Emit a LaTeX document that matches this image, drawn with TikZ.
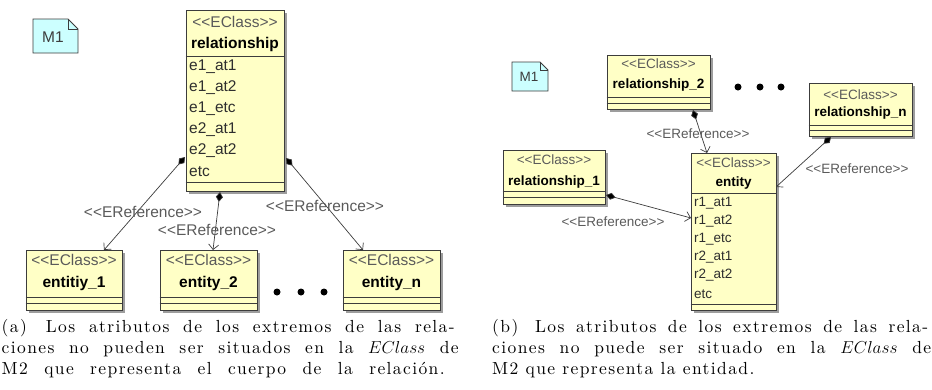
\documentclass[tikz,border=0pt]{standalone}
\usepackage{fontspec}
\newfontfamily\umlfont{Liberation Sans}
\newfontfamily\capfont[LetterSpace=8]{lmroman10-regular.otf}
\usetikzlibrary{arrows.meta,fit,shadows}
\definecolor{classfill}{HTML}{FFFFC6}
\definecolor{notefill}{HTML}{CCFFFF}
\definecolor{umlline}{HTML}{3C3C3C}
\definecolor{stereogray}{HTML}{5A5A5A}
\definecolor{attrgray}{HTML}{2E2E2E}
% guillemet-free stereotype brackets (keeps << and >> literal)
\newcommand\lla{<\kern0pt<}
\newcommand\rra{>\kern0pt>}
\newcommand\stereo[1]{\lla#1\rra}
% justified caption line of a given width
\newcommand\capline[2]{\makebox[#1pt][s]{#2}}
\tikzset{
  classbox/.style={draw=umlline, fill=classfill, line width=0.8pt, inner sep=0pt,
    drop shadow={shadow xshift=3pt, shadow yshift=-3pt, fill=black!45, opacity=0.85}},
  sepline/.style={draw=umlline, line width=0.8pt},
  notebox/.style={draw=umlline, fill=notefill, line width=0.8pt},
  lst/.style={font=\umlfont\fontsize{15.5}{18}\selectfont, text=stereogray, inner sep=0pt},
  lname/.style={font=\umlfont\bfseries\fontsize{15.5}{18}\selectfont, text=black, inner sep=0pt},
  lattr/.style={font=\umlfont\fontsize{15.5}{18}\selectfont, text=attrgray, inner sep=0pt, anchor=west},
  rst/.style={font=\umlfont\fontsize{13.5}{16}\selectfont, text=stereogray, inner sep=0pt},
  rname/.style={font=\umlfont\bfseries\fontsize{13.5}{16}\selectfont, text=black, inner sep=0pt},
  rattr/.style={font=\umlfont\fontsize{13.5}{16}\selectfont, text=attrgray, inner sep=0pt, anchor=west},
  eref/.style={draw=umlline, line width=0.7pt,
    {Diamond[length=10pt,width=7pt,fill=black]}-{Straight Barb[length=5pt,width=10pt]}},
  dotmark/.style={circle, fill=black, inner sep=0pt, minimum size=7pt},
  captext/.style={font=\capfont\fontsize{17.5}{21.5}\selectfont,
    inner sep=0pt, anchor=base west},
}
% class rectangle spanning two corners
\newcommand\umlbox[5]{\node[classbox, fit={(#2,#3) (#4,#5)}] (#1) {};}
\begin{document}
\begin{tikzpicture}[x=1pt, y=-1pt]
\useasboundingbox (0,0) rectangle (932,389);

% ---------- (a) ----------
% note M1
\draw[notebox] (33,19) -- (68,19) -- (78,29) -- (78,53) -- (33,53) -- cycle;
\draw[umlline, line width=0.8pt] (68,19) -- (68,29) -- (78,29);
\node[lst, text=umlline] (ma) at (53,37) {M1};

% relationship class
\umlbox{rel}{186}{10}{284}{191}
\node[lst] (relst) at (235,22) {\stereo{EClass}};
\node[lname] (relnm) at (235,44) {relationship};
\draw[sepline] (rel.west |- 0,56) -- (rel.east |- 0,56);
\node[lattr] (ra1) at (189,67) {e1\_at1};
\node[lattr] (ra2) at (189,88) {e1\_at2};
\node[lattr] (ra3) at (189,109) {e1\_etc};
\node[lattr] (ra4) at (189,130) {e2\_at1};
\node[lattr] (ra5) at (189,151) {e2\_at2};
\node[lattr] (ra6) at (189,172) {etc};
\draw[sepline] (rel.west |- 0,182) -- (rel.east |- 0,182);

% entity classes
\umlbox{ea}{26}{250}{122}{310}
\node[lst] (east) at (74,260) {\stereo{EClass}};
\node[lname] (eanm) at (74,283) {entitiy\_1};
\draw[sepline] (ea.west |- 0,297) -- (ea.east |- 0,297);
\draw[sepline] (ea.west |- 0,303) -- (ea.east |- 0,303);

\umlbox{eb}{160}{250}{257}{310}
\node[lst] (ebst) at (208.5,260) {\stereo{EClass}};
\node[lname] (ebnm) at (208.5,283) {entity\_2};
\draw[sepline] (eb.west |- 0,297) -- (eb.east |- 0,297);
\draw[sepline] (eb.west |- 0,303) -- (eb.east |- 0,303);

\umlbox{ec}{343}{250}{440}{310}
\node[lst] (ecst) at (391.5,260) {\stereo{EClass}};
\node[lname] (ecnm) at (391.5,283) {entity\_n};
\draw[sepline] (ec.west |- 0,297) -- (ec.east |- 0,297);
\draw[sepline] (ec.west |- 0,303) -- (ec.east |- 0,303);

\node[dotmark] (da1) at (277,292) {};
\node[dotmark] (da2) at (301,292) {};
\node[dotmark] (da3) at (324,292) {};

% references
\coordinate (sa1) at (185,157);
\coordinate (sa2) at (220,192);
\coordinate (sa3) at (286,158);
\coordinate (ta1) at (104,250);
\coordinate (ta2) at (213,250);
\coordinate (ta3) at (363,250);
\draw[eref] (sa1) -- (ta1);
\draw[eref] (sa2) -- (ta2);
\draw[eref] (sa3) -- (ta3);
\node[lst] (la1) at (143,212) {\stereo{EReference}};
\node[lst] (la2) at (217,230) {\stereo{EReference}};
\node[lst] (la3) at (325,206) {\stereo{EReference}};

% caption (a)
\node[captext] (ca1) at (1.5,332) {\capline{453}{(a)\hspace{0.3em} Los atributos de los extremos de las rela-}};
\node[captext] (ca2) at (1.5,353) {\capline{457}{ciones no pueden ser situados en la $EClass$ de}};
\node[captext] (ca3) at (1.5,374) {\capline{443}{M2 que representa el cuerpo de la relación.}};

% ---------- (b) ----------
\draw[notebox] (512,62) -- (540,62) -- (548,70) -- (548,91) -- (512,91) -- cycle;
\draw[umlline, line width=0.8pt] (540,62) -- (540,70) -- (548,70);
\node[rst, text=umlline] (mb) at (529,77) {M1};

\umlbox{r2}{607}{55}{710}{109}
\node[rst] (r2st) at (658.5,64) {\stereo{EClass}};
\node[rname] (r2nm) at (658.5,85) {relationship\_2};
\draw[sepline] (r2.west |- 0,97) -- (r2.east |- 0,97);
\draw[sepline] (r2.west |- 0,103) -- (r2.east |- 0,103);

\umlbox{rn}{809}{83}{912}{136}
\node[rst] (rnst) at (860.5,95) {\stereo{EClass}};
\node[rname] (rnnm) at (860.5,113) {relationship\_n};
\draw[sepline] (rn.west |- 0,125) -- (rn.east |- 0,125);
\draw[sepline] (rn.west |- 0,130) -- (rn.east |- 0,130);

\umlbox{r1}{503}{150}{605}{204}
\node[rst] (r1st) at (554,160) {\stereo{EClass}};
\node[rname] (r1nm) at (554,182) {relationship\_1};
\draw[sepline] (r1.west |- 0,191) -- (r1.east |- 0,191);
\draw[sepline] (r1.west |- 0,197) -- (r1.east |- 0,197);

\umlbox{en}{691}{153}{776}{310}
\node[rst] (enst) at (733.5,163) {\stereo{EClass}};
\node[rname] (ennm) at (733.5,183) {entity};
\draw[sepline] (en.west |- 0,193) -- (en.east |- 0,193);
\node[rattr] (ea1) at (694,203) {r1\_at1};
\node[rattr] (ea2) at (694,221) {r1\_at2};
\node[rattr] (ea3) at (694,239) {r1\_etc};
\node[rattr] (ea4) at (694,257) {r2\_at1};
\node[rattr] (ea5) at (694,275) {r2\_at2};
\node[rattr] (ea6) at (694,294) {etc};
\draw[sepline] (en.west |- 0,304) -- (en.east |- 0,304);

\node[dotmark] (db1) at (738,87) {};
\node[dotmark] (db2) at (760,87) {};
\node[dotmark] (db3) at (781,87) {};

\coordinate (sb2) at (693,110);
\coordinate (sbn) at (831,137);
\coordinate (sb1) at (606,195);
\coordinate (tb2) at (707,153);
\coordinate (tbn) at (776,187);
\coordinate (tb1) at (691,218);
\draw[eref] (sb2) -- (tb2);
\draw[eref] (sbn) -- (tbn);
\draw[eref] (sb1) -- (tb1);
\node[rst] (lb2) at (698,134) {\stereo{EReference}};
\node[rst] (lbn) at (857,169) {\stereo{EReference}};
\node[rst] (lb1) at (613,222) {\stereo{EReference}};

% caption (b)
\node[captext] (cb1) at (492,332) {\capline{436}{(b)\hspace{0.3em} Los atributos de los extremos de las rela-}};
\node[captext] (cb2) at (492,353) {\capline{439}{ciones no puede ser situado en la $EClass$ de}};
\node[captext] (cb3) at (492,374) {M2 que representa la entidad.};
\end{tikzpicture}
\end{document}
